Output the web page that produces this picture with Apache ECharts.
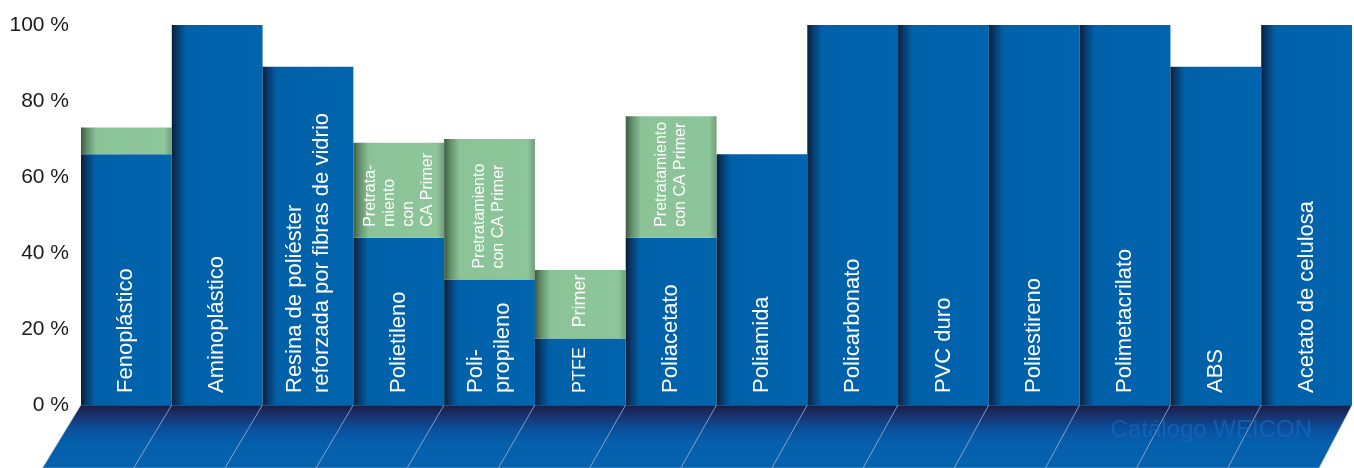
<!DOCTYPE html>
<html>
<head>
<meta charset="utf-8">
<script src="https://cdn.jsdelivr.net/npm/echarts@6/dist/echarts.min.js"></script>
<style>
  html, body { margin: 0; padding: 0; background: #fff; }
  #main { width: 1354px; height: 468px; }
</style>
</head>
<body>
<div id="main"></div>
<script>
// datos (porcentaje)
var categories = [
  "Fenoplástico", "Aminoplástico", "Resina de poliéster\nreforzada por fibras de vidrio",
  "Polietileno", "Poli-\npropileno", "PTFE", "Poliacetato", "Poliamida",
  "Policarbonato", "PVC duro", "Poliestireno", "Polimetacrilato", "ABS", "Acetato de celulosa"
];
var baseValues = [66, 100, 89, 44, 33, 17.5, 44, 66, 100, 100, 100, 100, 89, 100];
var primerValues = [7, 0, 0, 25, 37, 18, 32, 0, 0, 0, 0, 0, 0, 0];
var primerLabels = ["", "", "", "Pretrata-\nmiento\ncon\nCA Primer", "Pretratamiento\ncon CA Primer",
  "Primer", "Pretratamiento\ncon CA Primer", "", "", "", "", "", "", ""];
var yTicks = [0, 20, 40, 60, 80, 100];

var FONT = "Liberation Sans, Arial, Helvetica, sans-serif";

var blueFill = new echarts.graphic.LinearGradient(0, 0, 1, 0, [
  { offset: 0, color: "#05203a" },
  { offset: 0.06, color: "#093a6b" },
  { offset: 0.16, color: "#0061a9" },
  { offset: 1, color: "#0064ae" }
]);
var greenFill = new echarts.graphic.LinearGradient(0, 0, 1, 0, [
  { offset: 0, color: "#3d5c43" },
  { offset: 0.07, color: "#64906c" },
  { offset: 0.17, color: "#8bc397" },
  { offset: 0.92, color: "#8dc69a" },
  { offset: 1, color: "#6f9c7a" }
]);
var floorFill = new echarts.graphic.LinearGradient(0, 0, 0, 1, [
  { offset: 0, color: "#181c44" },
  { offset: 0.14, color: "#1b2d66" },
  { offset: 0.38, color: "#0a4f9c" },
  { offset: 0.6, color: "#0560ac" },
  { offset: 1, color: "#0563ae" }
]);

// la columna PTFE es estrecha: letra algo menor
function itemFor(v, i, isPrimer) {
  var item = { value: isPrimer && !(v > 0) ? "-" : v };
  if (categories[i] === "PTFE") item.label = { fontSize: 18 };
  return item;
}

var option = {
  animation: false,
  title: {
    text: "Catálogo WEICON",
    right: 37,
    top: 413,
    textStyle: { color: "rgba(20,110,200,0.6)", fontSize: 24, fontWeight: "normal", fontFamily: FONT }
  },
  grid: { left: 81, right: 2, top: 25, bottom: 63 },
  xAxis: {
    type: "category",
    data: categories,
    axisLabel: { show: false },
    axisLine: { show: false },
    axisTick: { show: false }
  },
  yAxis: {
    type: "value",
    min: yTicks[0],
    max: yTicks[yTicks.length - 1],
    interval: 20,
    splitLine: { show: false },
    axisLine: { show: false },
    axisTick: { show: false },
    axisLabel: { formatter: "{value} %", fontSize: 21, color: "#1a1a1a", margin: 12, fontFamily: FONT }
  },
  series: [
    {
      // suelo inclinado bajo las barras
      type: "custom",
      data: categories.map(function (c, i) { return [i, 0]; }),
      silent: true,
      renderItem: function (params, api) {
        var p = api.coord([api.value(0), 0]);
        var w = api.size([1, 0])[0];
        var h = api.getHeight() - p[1];
        var cs = params.coordSys;
        var x0 = p[0] - w / 2, x1 = p[0] + w / 2;
        var slant = function (x) { return h * (0.61 - 0.086 * (x - cs.x) / cs.width); };
        return {
          type: "polygon",
          shape: { points: [[x0, p[1]], [x1, p[1]], [x1 - slant(x1), p[1] + h], [x0 - slant(x0), p[1] + h]] },
          style: { fill: floorFill, stroke: "rgba(165,175,205,0.75)", lineWidth: 0.7 }
        };
      }
    },
    {
      name: "Material",
      type: "bar",
      stack: "total",
      barWidth: "100%",
      data: baseValues.map(function (v, i) { return itemFor(v, i, false); }),
      itemStyle: { color: blueFill },
      label: {
        show: true,
        position: "insideBottom",
        rotate: 90,
        align: "left",
        verticalAlign: "middle",
        distance: 12,
        color: "#fff",
        fontSize: 22,
        lineHeight: 27,
        fontFamily: FONT,
        formatter: function (p) { return categories[p.dataIndex]; }
      }
    },
    {
      name: "Primer",
      type: "bar",
      stack: "total",
      barWidth: "100%",
      data: primerValues.map(function (v, i) { return itemFor(v, i, true); }),
      itemStyle: { color: greenFill },
      label: {
        show: true,
        position: "insideBottom",
        rotate: 90,
        align: "left",
        verticalAlign: "middle",
        distance: 11,
        color: "#fff",
        fontSize: 16,
        lineHeight: 19,
        fontFamily: FONT,
        formatter: function (p) { return primerLabels[p.dataIndex]; }
      }
    }
  ]
};

var myChart = echarts.init(document.getElementById("main"));
myChart.setOption(option);
</script>
</body>
</html>
